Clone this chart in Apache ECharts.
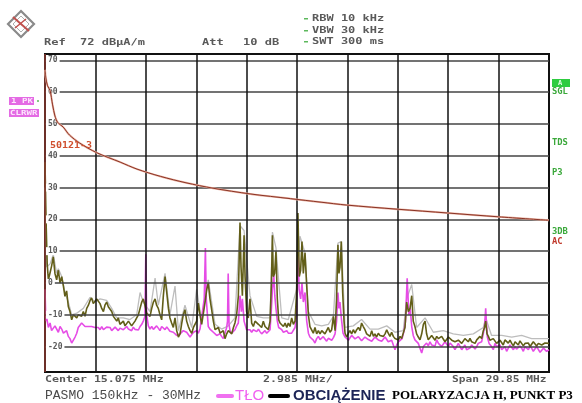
<!DOCTYPE html>
<html><head><meta charset="utf-8">
<script src="https://cdn.jsdelivr.net/npm/echarts@6/dist/echarts.min.js"></script>
<style>html,body{margin:0;padding:0;background:#fff}#c{width:582px;height:403px}</style>
</head><body><div id="c"></div>
<script>
// Frequency axis (MHz) and level axis (dBµA/m)
const freqMin = 0.15, freqMax = 30;
const levelMin = -28, levelMax = 72;
const yGridValues = [70, 60, 50, 40, 30, 20, 10, 0, -10, -20];
const xGridValues = [3.135, 6.12, 9.105, 12.09, 15.075, 18.06, 21.045, 24.03, 27.015];

// Limit line 50121-3
const limitLine = [[0.15,67],[0.2,64.5],[0.3,62],[0.45,60.5],[0.6,56],[0.74,52.5],[0.9,50.5],[1.23,49],[1.6,46.5],[2.2,44],[3.2,41],[4.6,38],[5.6,35.8],[7,33.5],[8.5,31.5],[10.1,29.8],[12.3,28],[14.7,26.5],[16.5,25.4],[18,24.5],[21,23.2],[24,22],[27,20.8],[30,19.7]];

// OBCIĄŻENIE (load) trace
const loadTrace = [[0.15,38],[0.21,20],[0.28,6],[0.35,1],[0.45,3.2],[0.54,5.3],[0.64,8.2],[0.74,3],[0.84,1],[0.94,4],[1.04,0],[1.14,2],[1.24,-1],[1.33,-4.2],[1.43,-2.5],[1.53,-7.4],[1.63,-9],[1.73,-11.6],[1.83,-10],[1.93,-9.5],[2.03,-11],[2.12,-10],[2.22,-9.5],[2.32,-10.5],[2.42,-9],[2.52,-10.5],[2.62,-8],[2.72,-7],[2.82,-5.5],[2.91,-4.7],[3.01,-6.5],[3.11,-7],[3.21,-5],[3.31,-4.5],[3.41,-6.5],[3.51,-8],[3.61,-9],[3.70,-7],[3.80,-6],[3.90,-7.5],[4.0,-7],[4.1,-9],[4.2,-10.5],[4.3,-11],[4.4,-12],[4.49,-11],[4.59,-13],[4.69,-12.5],[4.79,-12],[4.89,-13.5],[4.99,-13],[5.09,-12],[5.18,-12.5],[5.28,-13.5],[5.38,-13],[5.48,-12],[5.58,-11],[5.68,-10],[5.78,-8],[5.88,-6],[5.97,-5],[6.07,-7],[6.17,-9.5],[6.27,-9],[6.37,-10.5],[6.47,-8],[6.57,-6],[6.67,-5],[6.76,-7],[6.86,-8],[6.96,-10],[7.06,-11.6],[7.16,-4],[7.26,2],[7.36,-3],[7.46,-8],[7.55,-11],[7.65,-12.6],[7.75,-14],[7.85,-11],[7.95,-15],[8.05,-17],[8.15,-16],[8.25,-12.6],[8.34,-10],[8.44,-8.4],[8.54,-12],[8.64,-13.7],[8.74,-15],[8.84,-15.8],[8.94,-14],[9.03,-13.7],[9.13,-12],[9.23,-6.3],[9.33,-10],[9.43,-13],[9.53,-12.6],[9.63,-6],[9.73,-2],[9.82,0],[9.92,-5],[10.02,-8.4],[10.12,-12],[10.22,-14.7],[10.32,-15],[10.42,-14],[10.52,-15.8],[10.61,-16],[10.71,-15],[10.81,-17.5],[10.91,-16],[11.01,-15],[11.11,-14.7],[11.21,-16],[11.31,-14],[11.40,-12.6],[11.50,-10],[11.60,-4.2],[11.70,19],[11.76,5],[11.84,-4],[11.94,15],[12.0,2],[12.09,-9],[12.19,-11],[12.29,-5],[12.39,-12.6],[12.49,-13.7],[12.59,-12],[12.69,-11.5],[12.79,-13],[12.88,-12.6],[12.98,-14],[13.08,-12],[13.18,-13.7],[13.28,-13.7],[13.38,-14.7],[13.48,-12],[13.56,0],[13.62,15],[13.67,2],[13.75,3],[13.83,10],[13.91,-5],[13.99,-11.6],[14.07,-12.6],[14.17,-12],[14.27,-13.7],[14.37,-12.6],[14.47,-14],[14.56,-12.6],[14.66,-13.7],[14.76,-11],[14.86,-13],[14.96,-12],[15.05,-3],[15.13,22],[15.21,2],[15.29,4],[15.37,13],[15.45,3],[15.55,9.5],[15.65,-1],[15.75,-10],[15.84,-13.7],[15.94,-14],[16.04,-15.8],[16.14,-14],[16.24,-16],[16.34,-15],[16.44,-16],[16.54,-15],[16.63,-14.7],[16.73,-16],[16.83,-15.8],[16.93,-14],[17.03,-15.5],[17.13,-14.7],[17.23,-10.5],[17.33,-15],[17.42,-5],[17.5,12],[17.56,3],[17.62,5],[17.7,13],[17.78,-3],[17.86,-12],[17.92,-15.8],[18.02,-17],[18.12,-15.8],[18.21,-15],[18.31,-16],[18.41,-14.7],[18.51,-15.8],[18.61,-14.7],[18.71,-14],[18.81,-15],[18.9,-12.6],[19.0,-13.7],[19.1,-14.7],[19.2,-16],[19.3,-15.8],[19.4,-16.8],[19.5,-15],[19.6,-16.8],[19.69,-16],[19.79,-17],[19.89,-15.8],[19.99,-16.5],[20.09,-17],[20.19,-16.8],[20.29,-16],[20.39,-14.7],[20.48,-15.8],[20.58,-16.8],[20.68,-15.5],[20.78,-16.8],[20.88,-17.5],[20.98,-17],[21.08,-17.9],[21.18,-16.8],[21.27,-17.5],[21.37,-17.4],[21.47,-14],[21.57,-6],[21.67,-9],[21.77,-8],[21.87,-4],[21.96,-12],[22.06,-13.7],[22.16,-16],[22.26,-17],[22.36,-17.9],[22.46,-16],[22.56,-13],[22.66,-12],[22.75,-16],[22.85,-17.9],[22.95,-17.9],[23.05,-16.5],[23.15,-17],[23.25,-18],[23.35,-16.8],[23.45,-17.5],[23.54,-17.9],[23.64,-16.8],[23.74,-17.4],[23.84,-18.5],[23.94,-18],[24.04,-17],[24.14,-16.8],[24.24,-18],[24.33,-17.9],[24.43,-18.5],[24.53,-19],[24.63,-18],[24.73,-17.9],[24.83,-19],[24.93,-18.5],[25.02,-17.5],[25.12,-17],[25.22,-18.5],[25.32,-17.4],[25.42,-18.5],[25.52,-18],[25.62,-19],[25.72,-17.9],[25.81,-18.5],[25.91,-16.8],[26.01,-17.5],[26.11,-15],[26.18,-14],[26.25,-12],[26.33,-16],[26.41,-16.8],[26.5,-18],[26.6,-18.5],[26.7,-17.5],[26.8,-17.9],[26.9,-19],[27.0,-19],[27.1,-18],[27.2,-18.5],[27.29,-19.5],[27.39,-17.9],[27.49,-18.5],[27.59,-18.9],[27.69,-18],[27.79,-19],[27.89,-19.8],[27.99,-18.5],[28.08,-19],[28.18,-19.5],[28.28,-18.2],[28.38,-18.5],[28.48,-19.8],[28.58,-19],[28.68,-18.5],[28.78,-18.9],[28.88,-20],[28.97,-19.5],[29.07,-18.5],[29.17,-18.9],[29.27,-19.8],[29.37,-19],[29.47,-18.5],[29.57,-19.5],[29.67,-20],[29.76,-18.9],[29.86,-19.5],[30.0,-19]];

// TŁO (background) trace
const backgroundTrace = [[0.15,-2],[0.2,-12],[0.25,-11],[0.35,-14],[0.45,-12.6],[0.54,-15],[0.64,-14.7],[0.74,-13.5],[0.84,-14],[0.94,-15.5],[1.04,-13.7],[1.14,-14.5],[1.24,-15.8],[1.33,-16],[1.43,-15],[1.53,-16.8],[1.63,-17.5],[1.73,-18.9],[1.83,-19],[1.93,-17],[2.03,-15.8],[2.12,-14],[2.22,-13.7],[2.32,-12.6],[2.42,-13],[2.52,-13.7],[2.62,-14],[2.72,-13.7],[2.82,-14.2],[2.91,-13.7],[3.01,-14.2],[3.11,-14],[3.21,-13.7],[3.31,-14],[3.41,-14.7],[3.51,-13.7],[3.61,-14.7],[3.70,-14.2],[3.80,-13.9],[3.90,-14.5],[4.0,-14],[4.1,-15],[4.2,-14.7],[4.3,-13.9],[4.4,-14],[4.49,-15],[4.59,-14.2],[4.69,-13.6],[4.79,-14.7],[4.89,-15.2],[4.99,-13.7],[5.09,-14.5],[5.18,-14.2],[5.28,-15],[5.38,-13.9],[5.48,-14.6],[5.58,-14],[5.68,-14.8],[5.78,-13.7],[5.88,-13],[5.97,-12],[6.07,-10.5],[6.12,9],[6.17,-10],[6.27,-13.5],[6.37,-14.5],[6.47,-13.7],[6.57,-14.6],[6.67,-14],[6.76,-13.5],[6.86,-14.2],[6.96,-15],[7.06,-13.7],[7.16,-14.3],[7.26,-14.7],[7.36,-13.8],[7.46,-14],[7.55,-15.2],[7.65,-14.7],[7.75,-15.5],[7.85,-15.8],[7.95,-16.5],[8.05,-16.8],[8.15,-16],[8.25,-15.8],[8.34,-15],[8.44,-14.7],[8.54,-15.5],[8.64,-16],[8.74,-17],[8.84,-16.8],[8.94,-15.5],[9.03,-16],[9.13,-15],[9.23,-15.8],[9.33,-14.5],[9.43,-14],[9.58,-5],[9.65,11],[9.7,-5],[9.82,-13.7],[9.92,-14.5],[10.02,-14.7],[10.12,-15.5],[10.22,-15.8],[10.32,-16.5],[10.42,-16.8],[10.52,-16],[10.61,-16.8],[10.71,-17.5],[10.81,-17],[10.91,-14],[10.96,-12],[11.0,3],[11.05,-13],[11.11,-15],[11.21,-15.8],[11.31,-15.2],[11.40,-14.7],[11.50,-13.5],[11.60,-12.6],[11.70,-4],[11.78,-9],[11.84,-5],[11.94,-12],[12.09,-14.7],[12.19,-15.3],[12.29,-14.7],[12.39,-15.5],[12.49,-14.7],[12.59,-15],[12.69,-15.3],[12.79,-14.5],[12.88,-15.3],[12.98,-16],[13.08,-15.8],[13.18,-15],[13.28,-15.8],[13.38,-15.3],[13.48,-14.7],[13.56,-8],[13.62,-2],[13.7,2.6],[13.76,-4],[13.83,-8],[13.91,-12],[13.99,-14],[14.07,-14.5],[14.17,-14.7],[14.27,-15.5],[14.37,-15.8],[14.47,-15],[14.56,-15.8],[14.66,-16.3],[14.76,-15.8],[14.86,-16],[14.96,-14],[15.05,-10],[15.13,11.6],[15.2,-2],[15.29,-5],[15.37,0],[15.45,-6],[15.55,-3],[15.65,-12],[15.75,-15.8],[15.84,-17],[15.94,-16.8],[16.04,-18],[16.14,-18.9],[16.24,-17.5],[16.34,-16.8],[16.44,-17.8],[16.54,-18],[16.63,-16.9],[16.73,-17.5],[16.83,-18.3],[16.93,-17.4],[17.03,-17],[17.13,-18],[17.23,-17.2],[17.33,-16],[17.42,-12],[17.5,-3],[17.56,-8],[17.62,-6],[17.7,-11],[17.8,-15.8],[17.92,-17],[18.02,-16.8],[18.12,-18],[18.21,-17.5],[18.31,-16.5],[18.41,-16.8],[18.51,-17.6],[18.61,-17.9],[18.71,-16.9],[18.81,-17.4],[18.9,-18.2],[19.0,-17.9],[19.1,-17],[19.2,-16.8],[19.3,-17.8],[19.4,-17.4],[19.5,-18.3],[19.6,-17.9],[19.69,-17],[19.79,-16.8],[19.89,-17.9],[19.99,-17.4],[20.09,-18.3],[20.19,-17.9],[20.29,-17],[20.39,-17.4],[20.48,-18.5],[20.58,-18.9],[20.68,-18],[20.78,-19.5],[20.88,-21],[20.98,-19.5],[21.08,-18.5],[21.18,-19],[21.3,-17.5],[21.42,-15],[21.5,-12],[21.6,1.5],[21.7,-10],[21.78,-8],[21.87,-13.7],[21.96,-16.5],[22.06,-17.9],[22.16,-18.5],[22.26,-19],[22.36,-20.5],[22.46,-22],[22.56,-20],[22.66,-19.5],[22.75,-18.9],[22.85,-19.8],[22.95,-18.5],[23.05,-19.5],[23.15,-18.9],[23.25,-19.8],[23.35,-17.9],[23.45,-19],[23.54,-18.5],[23.64,-20],[23.74,-19.5],[23.84,-18.5],[23.94,-19],[24.04,-20],[24.14,-18.9],[24.24,-19.5],[24.33,-20],[24.43,-21],[24.53,-20],[24.63,-19],[24.73,-19.5],[24.83,-21],[24.93,-20.4],[25.02,-19.5],[25.12,-21],[25.22,-20.5],[25.32,-20.5],[25.42,-19.5],[25.52,-19.5],[25.62,-20.8],[25.72,-20],[25.81,-19],[25.91,-19.5],[26.01,-18.5],[26.11,-18],[26.18,-14],[26.25,-8],[26.3,-13],[26.35,-17],[26.45,-19],[26.6,-20],[26.7,-21],[26.8,-19],[26.9,-20],[27.0,-20.5],[27.1,-19.5],[27.2,-21],[27.29,-20.5],[27.39,-20],[27.49,-21.5],[27.59,-20.5],[27.69,-19.5],[27.79,-19.5],[27.89,-21],[27.99,-20],[28.08,-20.8],[28.18,-21],[28.28,-19.8],[28.38,-20.5],[28.48,-21.5],[28.58,-20],[28.68,-20.5],[28.78,-21],[28.88,-19.8],[28.97,-20.5],[29.07,-21.5],[29.17,-21],[29.27,-20],[29.37,-20.5],[29.47,-21.8],[29.57,-21.5],[29.67,-20.5],[29.76,-20.5],[29.86,-21.5],[30.0,-21]];

// Max-hold (grey) trace
const maxTrace = [[0.15,30],[0.25,5],[0.45,6],[0.64,9],[0.84,3],[0.94,4.5],[1.14,2],[1.33,-3],[1.53,-6],[1.73,-10],[2.03,-9.5],[2.42,-8],[2.82,-4.5],[3.11,-6],[3.41,-5],[3.8,-5.5],[4.1,-8],[4.4,-11],[4.79,-11],[5.18,-11.5],[5.58,-10],[5.78,-3],[5.97,-6],[6.37,-9],[6.67,1.5],[6.86,-7],[7.26,3],[7.55,-10],[7.85,-1],[8.05,-15],[8.44,-7],[8.84,-14],[9.13,-2],[9.43,-12],[9.82,1],[10.22,-13],[10.61,-14.5],[11.01,-13.5],[11.4,-11],[11.70,18],[11.94,16.5],[12.29,-4],[12.69,-10.5],[13.08,-11],[13.48,-11],[13.62,16],[13.83,11],[14.17,-11],[14.56,-11.5],[15.05,-2],[15.25,14.7],[15.55,9.5],[15.75,-9],[16.14,-13],[16.54,-13.5],[16.93,-13],[17.23,-10.5],[17.5,12.5],[17.7,13],[17.92,-14],[18.41,-13.5],[18.9,-11.5],[19.4,-14.5],[19.89,-14.5],[20.39,-13.5],[20.88,-15.5],[21.37,-15],[21.57,-5],[21.87,-0.5],[22.16,-14],[22.66,-11],[23.15,-15.5],[23.74,-15],[24.33,-16],[24.93,-16.5],[25.52,-16],[26.11,-14],[26.25,-11],[26.6,-16.5],[27.2,-16.5],[27.79,-17],[28.38,-16.5],[28.97,-17.5],[29.57,-17.5],[30,-17.5]];

const chart = echarts.init(document.getElementById('c'), null, {renderer: 'canvas'});

const MONO = '"DejaVu Sans Mono", "Liberation Mono", monospace';
function smallText(text, x, y, fill, sx) {
  return {type: 'text', x: x, y: y, scaleX: sx || 1.5, z: 10,
    style: {text: text, fill: fill || '#5a5a5a', font: 'bold 8px ' + MONO, textVerticalAlign: 'middle', textAlign: 'left'}};
}
const hiddenAxis = {axisLine: {show: false}, axisTick: {show: false}, axisLabel: {show: false}, splitLine: {show: false}};

const graphics = [
  // logo
  {type: 'polygon', shape: {points: [[21,11],[34,24],[21,37],[8,24]]}, style: {fill: 'none', stroke: '#8a8a8a', lineWidth: 2.2}},
  {type: 'polygon', shape: {points: [[21,16],[29,24],[21,32],[13,24]]}, style: {fill: 'none', stroke: '#b0b0b0', lineWidth: 1}},
  {type: 'line', shape: {x1: 13, y1: 17, x2: 29, y2: 31}, style: {stroke: '#c0504d', lineWidth: 2}},
  {type: 'line', shape: {x1: 15, y1: 28, x2: 26, y2: 19}, style: {stroke: '#c0504d', lineWidth: 1.5}},
  // header
  smallText('Ref', 44, 43), smallText('72 dBµA/m', 80, 43),
  smallText('Att', 202, 43), smallText('10 dB', 243, 43),
  {type: 'rect', shape: {x: 304, y: 18, width: 4, height: 1.5}, style: {fill: '#5cb85c'}},
  {type: 'rect', shape: {x: 304, y: 30, width: 4, height: 1.5}, style: {fill: '#5cb85c'}},
  {type: 'rect', shape: {x: 304, y: 41, width: 4, height: 1.5}, style: {fill: '#5cb85c'}},
  smallText('RBW 10 kHz', 312, 19), smallText('VBW 30 kHz', 312, 31), smallText('SWT 300 ms', 312, 42),
  // left trace boxes
  {type: 'rect', shape: {x: 9, y: 97, width: 25, height: 8}, style: {fill: '#e46be4'}},
  {type: 'text', x: 11, y: 101.5, scaleX: 1.3, style: {text: '1 PK', fill: '#fde6fd', font: 'bold 7px ' + MONO, textVerticalAlign: 'middle'}},
  {type: 'rect', shape: {x: 9, y: 109, width: 30, height: 8}, style: {fill: '#e46be4'}},
  {type: 'text', x: 10, y: 113.5, scaleX: 1.3, style: {text: 'CLRWR', fill: '#fde6fd', font: 'bold 7px ' + MONO, textVerticalAlign: 'middle'}},
  {type: 'circle', shape: {cx: 38, cy: 101, r: 1}, style: {fill: '#5cb85c'}},
  // limit label
  smallText('50121-3', 50, 146, '#d0502f', 1.25),
  // right side labels
  {type: 'rect', shape: {x: 552, y: 79, width: 18, height: 8}, style: {fill: '#2ecc40'}},
  {type: 'text', x: 558, y: 83, style: {text: 'A', fill: '#e8ffe8', font: 'bold 7px ' + MONO, textVerticalAlign: 'middle'}},
  smallText('SGL', 552, 92, '#3aa83a', 1.1),
  smallText('TDS', 552, 143, '#3aa83a', 1.1),
  smallText('P3', 552, 173, '#3aa83a', 1.1),
  smallText('3DB', 552, 232, '#3aa83a', 1.1),
  smallText('AC', 552, 242, '#c0392b', 1.1),
  // footer
  smallText('Center 15.075 MHz', 45, 380, '#5a5a5a', 1.45),
  smallText('2.985 MHz/', 263, 380, '#5a5a5a', 1.45),
  smallText('Span 29.85 MHz', 452, 380, '#5a5a5a', 1.4),
  {type: 'text', x: 45, y: 396, style: {text: 'PASMO 150kHz - 30MHz', fill: '#4a4a4a', font: '13px "Liberation Mono", monospace', textVerticalAlign: 'middle'}},
  {type: 'rect', shape: {x: 216, y: 394, width: 18, height: 4, r: 2}, style: {fill: '#f070f0'}},
  {type: 'text', x: 235, y: 396, style: {text: 'TŁO', fill: '#f060f0', font: '15px "Liberation Sans", Arial, sans-serif', textVerticalAlign: 'middle'}},
  {type: 'rect', shape: {x: 268, y: 394, width: 22, height: 4, r: 2}, style: {fill: '#000'}},
  {type: 'text', x: 293, y: 396, style: {text: 'OBCIĄŻENIE', fill: '#1c2456', font: 'bold 15px "Liberation Sans", Arial, sans-serif', textVerticalAlign: 'middle'}},
  {type: 'text', x: 392, y: 396, style: {text: 'POLARYZACJA H, PUNKT P3', fill: '#000', font: 'bold 13px "Liberation Serif", "Times New Roman", serif', textVerticalAlign: 'middle'}}
];

const option = {
  animation: false,
  backgroundColor: '#fff',
  grid: {left: 45, top: 54, width: 504, height: 318, show: true, borderColor: '#111', borderWidth: 2, backgroundColor: '#fff'},
  xAxis: Object.assign({type: 'value', min: freqMin, max: freqMax}, hiddenAxis),
  yAxis: Object.assign({type: 'value', min: levelMin, max: levelMax}, hiddenAxis),
  graphic: graphics,
  series: [
    {
      type: 'line', name: 'grid', data: [], silent: true, z: 1,
      markLine: {
        silent: true, symbol: 'none', animation: false,
        data: yGridValues.map(v => ({yAxis: v, lineStyle: {color: '#444', width: 1.5, type: 'solid'},
          label: {show: true, position: 'insideStart', formatter: String(v), color: '#5a5a5a', fontFamily: 'DejaVu Sans Mono', fontWeight: 'bold', fontSize: 8, backgroundColor: '#fff', padding: [0, 2, 0, 2], distance: 1}}))
          .concat(xGridValues.map(v => ({xAxis: v, lineStyle: {color: '#111', width: 1.5, type: 'solid'}, label: {show: false}})))
          .concat([{xAxis: freqMin, lineStyle: {color: '#8b3a30', width: 1.5, type: 'solid'}, label: {show: false}}])
      }
    },
    {type: 'line', name: 'MaxHold', data: maxTrace, showSymbol: false, z: 2, lineStyle: {color: '#bdbdbd', width: 1.3}},
    {type: 'line', name: 'TŁO', data: backgroundTrace, showSymbol: false, z: 3, lineStyle: {color: '#e64ce6', width: 1.6}},
    {type: 'line', name: 'OBCIĄŻENIE', data: loadTrace, showSymbol: false, z: 4, lineStyle: {color: '#625e18', width: 1.6}},
    {type: 'line', name: 'limit-glow', data: limitLine, showSymbol: false, smooth: 0.3, z: 5, lineStyle: {color: '#eab3a3', width: 2}},
    {type: 'line', name: '50121-3', data: limitLine, showSymbol: false, smooth: 0.3, z: 6, lineStyle: {color: '#8a3426', width: 1}}
  ]
};
chart.setOption(option);
</script>
</body></html>
